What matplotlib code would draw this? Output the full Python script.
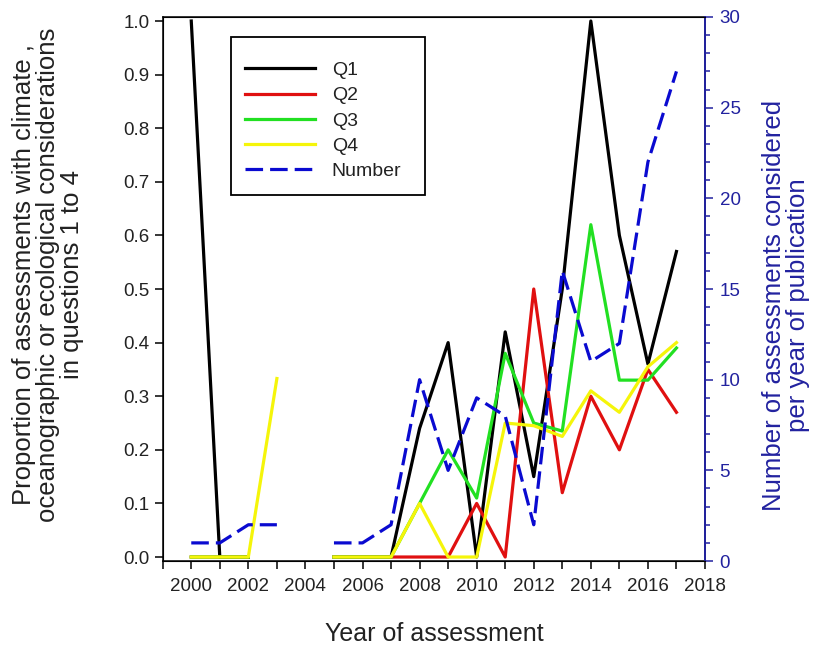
import numpy as np
import matplotlib.pyplot as plt
from matplotlib.lines import Line2D
from matplotlib.patches import Rectangle
from matplotlib.ticker import MultipleLocator

plt.rcParams['font.family'] = ['Liberation Sans', 'DejaVu Sans']

nan = np.nan
years = [2000, 2001, 2002, 2003, 2004, 2005, 2006, 2007, 2008,
         2009, 2010, 2011, 2012, 2013, 2014, 2015, 2016, 2017]

# proportion of assessments answering yes to each question
q1 = [1.0, 0.0, 0.0, nan, nan, 0.0, 0.0, 0.0, 0.24,
      0.40, 0.0, 0.42, 0.15, 0.50, 1.0, 0.60, 0.36, 0.57]
q2 = [0.0, 0.0, 0.0, nan, nan, 0.0, 0.0, 0.0, 0.0,
      0.0, 0.10, 0.0, 0.50, 0.12, 0.30, 0.20, 0.35, 0.27]
q3 = [0.0, 0.0, 0.0, nan, nan, 0.0, 0.0, 0.0, 0.10,
      0.20, 0.11, 0.38, 0.25, 0.235, 0.62, 0.33, 0.33, 0.39]
q4 = [0.0, 0.0, 0.0, 0.333, nan, 0.0, 0.0, 0.0, 0.10,
      0.0, 0.0, 0.25, 0.245, 0.225, 0.31, 0.27, 0.355, 0.40]

# assessments per year of publication
number = [1, 1, 2, 2, nan, 1, 1, 2, 10,
          5, 9, 8, 2, 16, 11, 12, 22, 27]

blue = '#22229f'
txt = '#222222'
lw = 2.3
colors = ['black', '#e01010', '#22e022', '#f5f50a']
num_color = '#0a0ad0'
num_dash = (5.5, 2.2)

fig = plt.figure(figsize=(8.21, 6.51), dpi=100)
ax = fig.add_axes([0.1982, 0.1382, 0.6605, 0.8357])

for vals, c, name in zip([q1, q2, q3, q4], colors, ['Q1', 'Q2', 'Q3', 'Q4']):
    ax.plot(years, vals, color=c, lw=lw, label=name)

ax.set_xlim(1999.0, 2018)
ax.set_ylim(-0.0075, 1.0075)
ax.xaxis.set_major_locator(MultipleLocator(2))
ax.xaxis.set_minor_locator(MultipleLocator(1))
ax.yaxis.set_major_locator(MultipleLocator(0.1))
ax.yaxis.set_major_formatter(plt.FormatStrFormatter('%.1f'))
ax.tick_params(axis='both', which='both', direction='out', length=5.5,
               width=1.1, labelsize=13.5, colors='black', labelcolor=txt)
ax.tick_params(axis='x', pad=7)
ax.tick_params(axis='y', pad=4)
ax.tick_params(top=False, right=False)
for s in ax.spines.values():
    s.set_linewidth(1.1)

ax.set_xlabel('Year of assessment', fontsize=18, color=txt)
ax.xaxis.set_label_coords(0.5, -0.112)
ax.set_ylabel('Proportion of assessments with climate ,\n'
              'oceanographic or ecological considerations\n'
              'in questions 1 to 4', fontsize=18.5, color=txt, linespacing=0.98)
ax.yaxis.set_label_coords(-0.146, 0.526)

ax2 = ax.twinx()
ax2.plot(years, number, color=num_color, lw=lw, dashes=num_dash, label='Number')
ax2.set_ylim(0, 30)
ax2.yaxis.set_major_locator(MultipleLocator(5))
ax2.yaxis.set_minor_locator(MultipleLocator(1))
ax2.tick_params(axis='y', which='major', direction='out', length=5.5,
                width=1.1, labelsize=13.5, colors=blue, pad=5)
ax2.tick_params(axis='y', which='minor', direction='out', length=3.5,
                width=1.1, colors=blue)
ax2.spines['right'].set_color(blue)
ax2.spines['right'].set_linewidth(1.4)
ax2.set_ylabel('Number of assessments considered\nper year of publication',
               fontsize=18.5, color=blue, linespacing=0.98)
ax2.yaxis.set_label_coords(1.105, 0.47)

# legend box drawn separately so the entries can sit lower inside it
box = Rectangle((0.1255, 0.6728), 0.3579, 0.2902, transform=ax2.transAxes,
                facecolor='white', edgecolor='black', lw=1.3, zorder=4)
ax2.add_patch(box)

handles = [Line2D([], [], color=c, lw=lw) for c in colors]
handles.append(Line2D([], [], color=num_color, lw=lw, dashes=num_dash))
leg = ax2.legend(handles, ['Q1', 'Q2', 'Q3', 'Q4', 'Number'],
                 loc='upper left', bbox_to_anchor=(0.1218, 0.9485),
                 borderaxespad=0, fontsize=14, handlelength=3.6,
                 handletextpad=0.85, labelspacing=0.39, borderpad=0.85,
                 frameon=False)
leg.set_zorder(5)
for t in leg.get_texts():
    t.set_color(txt)

fig.savefig('out.png', dpi=100)
